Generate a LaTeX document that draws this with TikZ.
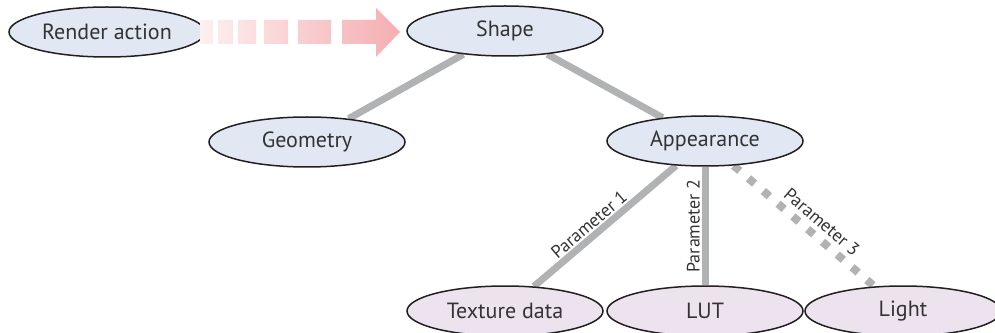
\documentclass[tikz,border=0pt]{standalone}
\usepackage{fontspec}
\setmainfont{PT Sans}
\usetikzlibrary{shapes.geometric,backgrounds}
\definecolor{topfill}{HTML}{E1E8F4}
\definecolor{botfill}{HTML}{EDE3EF}
\definecolor{edgegray}{HTML}{B1B2B4}
\definecolor{outline}{HTML}{231F20}
\definecolor{txt}{HTML}{333333}
\definecolor{arrowA}{HTML}{FDF0F0}
\definecolor{arrowB}{HTML}{F4AEB2}
\begin{document}
\begin{tikzpicture}[x=1pt,y=1pt,
  oval/.style={ellipse, draw=outline, line width=1.5pt, minimum width=196pt, minimum height=50pt, inner sep=0pt, text=txt, font=\fontsize{22}{26}\selectfont},
  topnode/.style={oval, fill=topfill},
  botnode/.style={oval, fill=botfill},
  link/.style={draw=edgegray, line width=7pt},
  dotlink/.style={draw=edgegray, line width=8pt, dash pattern=on 8pt off 11.5pt},
  lbl/.style={font=\fontsize{18}{21}\selectfont, text=txt, sloped, above, inner sep=5pt}
]
\useasboundingbox (0,0) rectangle (995,332);
\node[topnode] (render) at (107,300) {Render action};
\node[topnode] (shape) at (505,301) {Shape};
\node[topnode] (geometry) at (307,190) {Geometry};
\node[topnode] (appearance) at (705,191) {Appearance};
\node[botnode] (texture) at (505,21) {Texture data};
\node[botnode] (lut) at (705,21) {LUT};
\node[botnode] (light) at (903,21) {Light};
\begin{scope}[on background layer]
\draw[link] (shape) -- (geometry);
\draw[link] (shape) -- (appearance);
\draw[link] (appearance) -- (texture);
\draw[link] (appearance) -- (lut);
\draw[dotlink] (appearance) -- (light);
\end{scope}
\path (texture) -- (appearance) node[lbl, pos=0.44] {Parameter 1};
\path (lut) -- (appearance) node[lbl, pos=0.5] {Parameter 2};
\path (appearance) -- (light) node[lbl, pos=0.56, inner sep=8pt] {Parameter 3};
\shade[left color=arrowA, right color=arrowB]
  (200,312) rectangle (213,288)
  (218,312) rectangle (233,288)
  (238,312) rectangle (256,288)
  (264,312) rectangle (288,288)
  (298,312) rectangle (331,288)
  (342,312) -- (376,312) -- (376,324) -- (400,300) -- (376,275) -- (376,288) -- (342,288) -- cycle;
\end{tikzpicture}
\end{document}
